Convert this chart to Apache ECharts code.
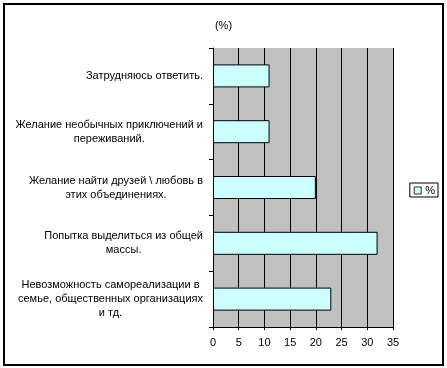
<!DOCTYPE html>
<html>
<head>
<meta charset="utf-8">
<script src="https://cdn.jsdelivr.net/npm/echarts@6/dist/echarts.min.js"></script>
<style>
html,body{margin:0;padding:0;background:#fff;}
#frame{position:absolute;left:3px;top:3px;width:437px;height:359px;border:2px solid #000;}
#chart{position:absolute;left:0;top:0;width:447px;height:368px;}
</style>
</head>
<body>
<div id="frame"></div>
<div id="chart"></div>
<script>
var categories = [
  ['Затрудняюсь ответить.'],
  ['Желание необычных приключений и', 'переживаний.'],
  ['Желание найти друзей \\ любовь в', 'этих объединениях.'],
  ['Попытка выделиться из общей', 'массы.'],
  ['Невозможность самореализации в', 'семье, общественных организациях', 'и тд.']
];
var values = [11, 11, 20, 32, 23];
var seriesName = '%';
var titleText = '(%)';
var xTicks = [0, 5, 10, 15, 20, 25, 30, 35];

var font = 'Liberation Sans, Arial, sans-serif';
var chart = echarts.init(document.getElementById('chart'), null, {renderer: 'canvas'});
chart.setOption({
  animation: false,
  backgroundColor: 'transparent',
  title: {
    text: titleText, left: 'center', top: 15,
    textStyle: {fontFamily: font, fontSize: 11, fontWeight: 'normal', color: '#000'}
  },
  legend: {
    data: [seriesName], right: 9, top: 183, orient: 'vertical',
    borderColor: '#000', borderWidth: 1, padding: [2, 3, 1, 4],
    itemWidth: 7, itemHeight: 7, itemGap: 0, icon: 'rect',
    itemStyle: {borderWidth: 0.8, borderColor: '#000'},
    textStyle: {fontFamily: font, fontSize: 11, color: '#000', padding: [0, 0, 0, -1]}
  },
  grid: {
    left: 213, right: 54, top: 48, bottom: 41,
    show: true, backgroundColor: '#C0C0C0', borderWidth: 0
  },
  xAxis: {
    type: 'value', min: xTicks[0], max: xTicks[xTicks.length - 1], interval: 5,
    axisLine: {show: true, lineStyle: {color: '#000', width: 1}},
    axisTick: {show: true, length: 3, lineStyle: {color: '#000'}},
    axisLabel: {fontFamily: font, fontSize: 11, color: '#000', margin: 10},
    splitLine: {show: true, lineStyle: {color: '#000', width: 1}}
  },
  yAxis: {
    type: 'category', inverse: true,
    data: categories.map(function (c) { return c.join('\n'); }),
    axisLine: {show: true, lineStyle: {color: '#000', width: 1}},
    axisTick: {show: true, length: 4, alignWithLabel: false, lineStyle: {color: '#000'}},
    axisLabel: {
      fontFamily: font, fontSize: 11, color: '#000', margin: 10, align: 'right',
      lineHeight: 14,
      formatter: function (v) {
        return v.split('\n').map(function (l) { return '{c|' + l + '}'; }).join('\n');
      },
      rich: {c: {align: 'center', fontFamily: font, fontSize: 11, color: '#000', lineHeight: 14}}
    },
    splitLine: {show: false}
  },
  series: [{
    name: seriesName, type: 'bar', data: values, barWidth: 23,
    itemStyle: {color: '#CCFFFF', borderColor: '#000', borderWidth: 1}
  }]
});
</script>
</body>
</html>
